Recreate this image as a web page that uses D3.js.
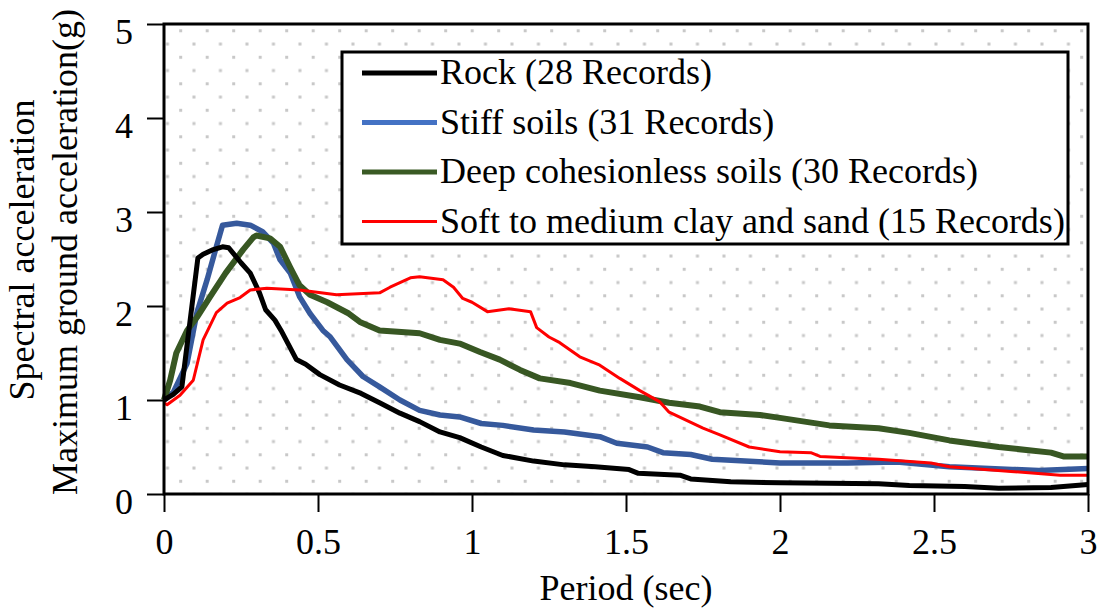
<!DOCTYPE html>
<html>
<head>
<meta charset="utf-8">
<script src="https://cdn.jsdelivr.net/npm/d3@7"></script>
<style>
  html, body { margin: 0; padding: 0; background: #fff; }
  text { font-family: "Liberation Serif", "Times New Roman", serif; fill: #000; }
</style>
</head>
<body>
<div id="chart"></div>
<script>
// values (period in s, Sa / PGA)
const rockT = [0, 0.03, 0.058, 0.11, 0.127, 0.16, 0.19, 0.21, 0.25, 0.28, 0.31, 0.33, 0.36, 0.38, 0.43, 0.46, 0.506, 0.57, 0.64, 0.70, 0.766, 0.83, 0.896, 0.96, 1.03, 1.1, 1.2, 1.3, 1.4, 1.51, 1.54, 1.675, 1.71, 1.84, 2.0, 2.32, 2.42, 2.6, 2.71, 2.88, 3.0];
const rockSa = [1.0, 1.06, 1.14, 2.51, 2.55, 2.6, 2.63, 2.62, 2.46, 2.35, 2.14, 1.96, 1.85, 1.74, 1.43, 1.38, 1.27, 1.16, 1.07, 0.97, 0.86, 0.77, 0.66, 0.6, 0.5, 0.41, 0.35, 0.31, 0.29, 0.26, 0.22, 0.2, 0.16, 0.13, 0.12, 0.11, 0.09, 0.08, 0.06, 0.07, 0.1];

const stiffT = [0, 0.03, 0.075, 0.107, 0.14, 0.17, 0.19, 0.236, 0.28, 0.32, 0.355, 0.377, 0.41, 0.44, 0.474, 0.516, 0.54, 0.594, 0.646, 0.70, 0.766, 0.83, 0.896, 0.96, 1.03, 1.1, 1.2, 1.3, 1.415, 1.47, 1.57, 1.62, 1.71, 1.78, 2.0, 2.22, 2.38, 2.55, 2.84, 3.0];
const stiffSa = [1.0, 1.08, 1.39, 1.93, 2.28, 2.63, 2.86, 2.88, 2.86, 2.79, 2.67, 2.49, 2.35, 2.1, 1.92, 1.74, 1.67, 1.43, 1.25, 1.14, 1.0, 0.89, 0.84, 0.82, 0.75, 0.73, 0.68, 0.66, 0.61, 0.54, 0.5, 0.44, 0.42, 0.37, 0.33, 0.33, 0.34, 0.29, 0.25, 0.27];

const deepT = [0, 0.02, 0.04, 0.075, 0.107, 0.15, 0.2, 0.257, 0.29, 0.30, 0.344, 0.377, 0.41, 0.44, 0.474, 0.53, 0.6, 0.636, 0.70, 0.83, 0.896, 0.96, 1.026, 1.09, 1.156, 1.22, 1.32, 1.415, 1.545, 1.64, 1.74, 1.805, 1.935, 2.0, 2.16, 2.32, 2.42, 2.55, 2.71, 2.88, 2.92, 3.0];
const deepSa = [1.0, 1.21, 1.5, 1.74, 1.88, 2.1, 2.35, 2.6, 2.73, 2.75, 2.72, 2.63, 2.41, 2.22, 2.12, 2.04, 1.92, 1.83, 1.74, 1.71, 1.64, 1.6, 1.51, 1.43, 1.32, 1.23, 1.18, 1.1, 1.03, 0.97, 0.93, 0.87, 0.84, 0.81, 0.73, 0.70, 0.65, 0.57, 0.5, 0.44, 0.4, 0.4];

const softT = [0, 0.01, 0.052, 0.095, 0.127, 0.17, 0.205, 0.247, 0.28, 0.334, 0.44, 0.56, 0.70, 0.734, 0.8, 0.83, 0.906, 0.94, 0.97, 1.0, 1.05, 1.12, 1.19, 1.21, 1.25, 1.285, 1.35, 1.415, 1.48, 1.545, 1.61, 1.64, 1.75, 1.805, 1.9, 2.0, 2.1, 2.13, 2.32, 2.49, 2.55, 2.75, 2.91, 3.0];
const softSa = [0.97, 0.95, 1.05, 1.21, 1.64, 1.93, 2.03, 2.09, 2.17, 2.19, 2.17, 2.12, 2.14, 2.2, 2.3, 2.31, 2.28, 2.2, 2.08, 2.04, 1.94, 1.97, 1.94, 1.77, 1.67, 1.61, 1.46, 1.37, 1.23, 1.1, 0.98, 0.87, 0.70, 0.63, 0.5, 0.45, 0.44, 0.40, 0.37, 0.33, 0.29, 0.24, 0.2, 0.2];

const legendLabels = ["Rock (28 Records)", "Stiff soils (31 Records)", "Deep cohesionless soils (30 Records)", "Soft to medium clay and sand (15 Records)"];
const xTicks = [0, 0.5, 1, 1.5, 2, 2.5, 3];
const yTicks = [0, 1, 2, 3, 4, 5];

const W = 1105, H = 608;
const margin = { top: 24, right: 17, bottom: 114, left: 164 };
const width = W - margin.left - margin.right;
const height = H - margin.top - margin.bottom;

const svg = d3.select("#chart")
    .append("svg")
    .attr("width", W)
    .attr("height", H);

// dotted background pattern
const defs = svg.append("defs");
const pat = defs.append("pattern")
    .attr("id", "dots")
    .attr("patternUnits", "userSpaceOnUse")
    .attr("x", 174.2).attr("y", 31.8)
    .attr("width", 26.5).attr("height", 26.5);
pat.append("rect").attr("x", 0).attr("y", 0).attr("width", 3).attr("height", 3).attr("fill", "#c8c8c8");
pat.append("rect").attr("x", 13.25).attr("y", 13.25).attr("width", 3).attr("height", 3).attr("fill", "#c8c8c8");

const g = svg.append("g")
    .attr("transform", `translate(${margin.left}, ${margin.top})`);

const x = d3.scaleLinear().domain([0, 3]).range([0, width]);
const y = d3.scaleLinear().domain([0, 5]).range([height, 0]);

g.append("rect")
    .attr("x", 0).attr("y", 0)
    .attr("width", width).attr("height", height)
    .attr("fill", "url(#dots)");

// axes
const xAxis = g.append("g")
    .attr("transform", `translate(0, ${height})`)
    .call(d3.axisBottom(x).tickValues(xTicks).tickSize(18).tickFormat(d3.format("")));
xAxis.select(".domain").remove();
xAxis.selectAll("line").attr("stroke", "#000").attr("stroke-width", 2);
xAxis.selectAll("text")
    .attr("y", 60).attr("dy", null)
    .style("font-size", "36px");

const yAxis = g.append("g")
    .call(d3.axisLeft(y).tickValues(yTicks).tickSize(17).tickFormat(d3.format("")));
yAxis.select(".domain").remove();
yAxis.selectAll("line").attr("stroke", "#000").attr("stroke-width", 2);
yAxis.selectAll("text")
    .attr("x", -31).attr("dy", "0.55em")
    .style("font-size", "36px");

// curves
const series = [
    { T: stiffT, Sa: stiffSa, color: "#36599c", w: 5.5 },
    { T: deepT, Sa: deepSa, color: "#385723", w: 6 },
    { T: rockT, Sa: rockSa, color: "#000000", w: 5 },
    { T: softT, Sa: softSa, color: "#ff0000", w: 3 }
];

const line = d3.line()
    .x(d => x(d[0]))
    .y(d => y(d[1]));

g.append("g")
    .selectAll("path")
    .data(series)
    .enter()
    .append("path")
    .attr("d", s => line(d3.zip(s.T, s.Sa)))
    .attr("fill", "none")
    .attr("stroke", s => s.color)
    .attr("stroke-width", s => s.w)
    .attr("stroke-linejoin", "round");

// frame
g.append("rect")
    .attr("x", 0).attr("y", 0)
    .attr("width", width).attr("height", height)
    .attr("fill", "none")
    .attr("stroke", "#000")
    .attr("stroke-width", 3);

// legend
const legendColors = ["#000000", "#4472c4", "#3a5a24", "#ff0000"];
const legendWidths = [5, 5, 5, 3];
const lg = svg.append("g");
lg.append("rect")
    .attr("x", 342).attr("y", 52)
    .attr("width", 726).attr("height", 192)
    .attr("fill", "#fff")
    .attr("stroke", "#000")
    .attr("stroke-width", 3);

const rows = lg.selectAll("g.row")
    .data(legendLabels)
    .enter()
    .append("g")
    .attr("class", "row")
    .attr("transform", (d, i) => `translate(0, ${73 + i * 49.5})`);

rows.append("line")
    .attr("x1", 362).attr("x2", 437)
    .attr("y1", 0).attr("y2", 0)
    .attr("stroke", (d, i) => legendColors[i])
    .attr("stroke-width", (d, i) => legendWidths[i]);

rows.append("text")
    .attr("x", 440).attr("y", 11)
    .style("font-size", "36px")
    .text(d => d);

// axis titles
svg.append("text")
    .attr("x", 626).attr("y", 600)
    .attr("text-anchor", "middle")
    .style("font-size", "36px")
    .text("Period (sec)");

svg.append("text")
    .attr("transform", "translate(34, 250) rotate(-90)")
    .attr("text-anchor", "middle")
    .style("font-size", "36px")
    .text("Spectral acceleration");

svg.append("text")
    .attr("transform", "translate(77, 252) rotate(-90)")
    .attr("text-anchor", "middle")
    .style("font-size", "36px")
    .text("Maximum ground acceleration(g)");
</script>
</body>
</html>
